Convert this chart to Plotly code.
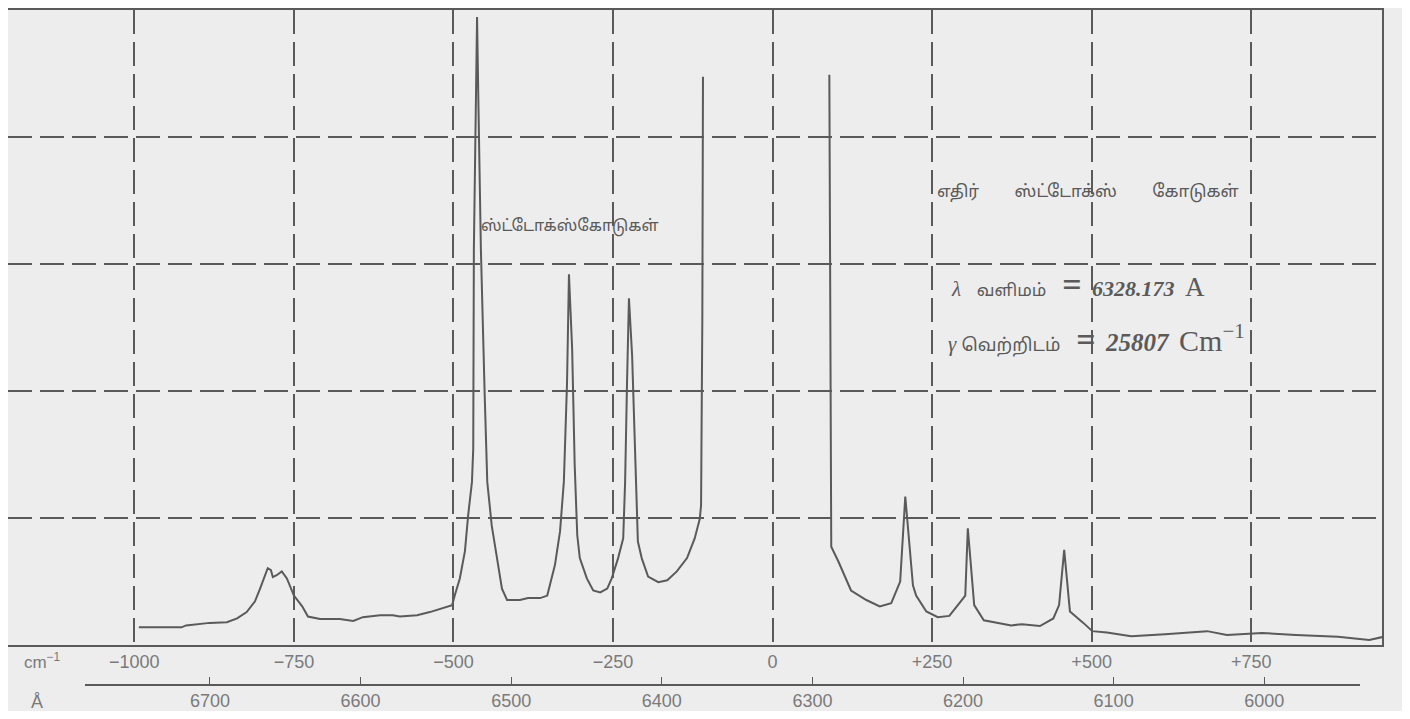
import plotly.graph_objects as go

# Raman shift (cm^-1) / relative intensity
stokes_shift = [-993, -960, -926, -919, -882, -855, -839, -824, -811, -803, -795, -791, -786,
                -783, -777, -769, -761, -750, -737, -728, -709, -678, -657, -642, -615, -595,
                -584, -557, -537, -516, -502, -498, -490, -482, -477, -471, -469, -468, -463,
                -461, -457, -451, -447, -440, -432, -424, -416, -396, -383, -364, -353, -341,
                -333, -327, -322, -319, -314, -310, -306, -302, -291, -281, -270, -259, -252,
                -242, -234, -231, -228, -225, -220, -216, -211, -205, -195, -179, -165, -150,
                -134, -122, -114, -112, -110, -109]
stokes_int = [2.8, 2.8, 2.8, 3.1, 3.5, 3.6, 4.2, 5.2, 6.9, 8.9, 11.0, 12.1, 11.8,
              10.7, 11.0, 11.6, 10.5, 7.8, 6.1, 4.5, 4.1, 4.1, 3.8, 4.4, 4.7, 4.7,
              4.5, 4.7, 5.2, 5.8, 6.3, 7.8, 10.5, 14.8, 20.4, 25.7, 30.9, 62.3, 98.9,
              85.9, 62.3, 39.2, 25.7, 18.8, 14.1, 8.9, 7.1, 7.1, 7.4, 7.4, 7.8, 12.6,
              17.9, 25.7, 41.4, 58.4, 46.6, 28.3, 17.3, 13.7, 10.5, 8.6, 8.3, 8.9, 10.5,
              13.7, 16.8, 25.7, 41.4, 54.6, 45.5, 30.9, 16.3, 13.7, 10.8, 9.9, 10.2, 11.6,
              13.7, 16.8, 19.9, 22.0, 51.8, 89.5]

anti_shift = [89, 92, 103, 123, 147, 168, 186, 200, 208, 220, 225, 241, 259, 277, 295, 302,
              306, 316, 331, 355, 374, 391, 419, 440, 449, 457, 466, 487, 501, 524, 562,
              615, 681, 712, 767, 820, 886, 935, 957]
anti_int = [89.8, 15.5, 13.2, 8.6, 7.1, 6.1, 6.6, 10.0, 23.4, 9.4, 7.8, 5.3, 4.4, 4.6, 6.9,
            7.8, 18.4, 6.3, 3.9, 3.5, 3.1, 3.3, 3.0, 4.2, 6.3, 15.0, 5.3, 3.5, 2.2, 2.0,
            1.4, 1.7, 2.2, 1.6, 1.9, 1.6, 1.3, 0.8, 1.3]

shift_ticks = [-1000, -750, -500, -250, 0, 250, 500, 750]
shift_labels = ["\u22121000", "\u2212750", "\u2212500", "\u2212250", "0", "+250", "+500", "+750"]
angstrom_ticks = [6700, 6600, 6500, 6400, 6300, 6200, 6100, 6000]
intensity_grid = [0, 20, 40, 60, 80, 100]

INK = "#5a5a5a"
SOFT = "#7a7a7a"
PAPER = "#ededed"
TAMIL = "Noto Sans Tamil, Noto Serif Tamil, Lohit Tamil, Noto Sans, sans-serif"
SERIF = "Liberation Serif, DejaVu Serif, serif"
LABEL = "Liberation Sans Narrow, Liberation Sans, Arial, sans-serif"
NB = "\u00a0"

fig = go.Figure()
fig.add_trace(go.Scatter(x=stokes_shift, y=stokes_int, mode="lines",
                         line=dict(color=INK, width=2), hoverinfo="skip"))
fig.add_trace(go.Scatter(x=anti_shift, y=anti_int, mode="lines",
                         line=dict(color=INK, width=2), hoverinfo="skip"))
# wavelength scale (Å) underneath
fig.add_trace(go.Scatter(x=angstrom_ticks, y=[0] * len(angstrom_ticks), mode="markers",
                         marker=dict(opacity=0), xaxis="x2", yaxis="y2", hoverinfo="skip"))

grid = dict(showgrid=True, gridcolor=INK, gridwidth=1.5, griddash="24px,8px")

fig.update_layout(
    width=1394, height=703,
    margin=dict(l=0, r=20, t=2, b=25),
    paper_bgcolor=PAPER, plot_bgcolor=PAPER,
    showlegend=False,
    xaxis=dict(range=[-1198, 955], tickvals=shift_ticks, ticktext=shift_labels,
               showline=True, mirror=True, linecolor=INK, linewidth=1.5,
               ticks="", zeroline=False, anchor="y",
               tickfont=dict(family=LABEL, size=18, color=SOFT), **grid),
    yaxis=dict(range=[0, 100], tickvals=intensity_grid, showticklabels=False,
               domain=[0.0577, 1], showline=True, mirror=True, linecolor=INK,
               linewidth=1.5, zeroline=False, **grid),
    xaxis2=dict(range=[6783, 5936.4], domain=[0.056, 0.984], anchor="y2",
                tickvals=angstrom_ticks, ticks="inside", ticklen=7, tickcolor=INK,
                showline=True, linecolor=INK, linewidth=1.5, showgrid=False,
                zeroline=False, tickfont=dict(family=LABEL, size=18, color=SOFT)),
    yaxis2=dict(domain=[0, 0.005], range=[0, 1], visible=False),
)

fig.add_annotation(x=-317, y=65.8, text="ஸ்ட்டோக்ஸ்கோடுகள்", showarrow=False,
                   font=dict(family=TAMIL, size=16, color=INK))
fig.add_annotation(x=494, y=71.3,
                   text="எதிர்" + NB * 8 + "ஸ்ட்டோக்ஸ்" + NB * 8 + "கோடுகள்",
                   showarrow=False, font=dict(family=TAMIL, size=17, color=INK))

tamil_span = "<span style='font-family:Noto Sans Tamil, Noto Sans;font-size:%dpx'>%s</span>"
eq = "<span style='font-size:34px'><b>=</b></span>"
fig.add_annotation(x=276, y=56.8, xanchor="left",
                   text="<i>λ</i>" + NB * 3 + tamil_span % (17, "வளிமம்") + NB * 3 + eq
                        + NB * 2 + "<span style='font-size:22px'><b><i>6328.173</i></b></span>"
                        + NB * 2 + "<span style='font-size:27px'>A</span>",
                   showarrow=False, font=dict(family=SERIF, size=21, color=INK))
fig.add_annotation(x=272, y=48.2, xanchor="left",
                   text="<i>γ</i>" + NB + tamil_span % (18, "வெற்றிடம்") + NB * 3 + eq
                        + NB * 2 + "<span style='font-size:25px'><b><i>25807</i></b></span>"
                        + NB * 2 + "<span style='font-size:30px'>Cm<sup>\u22121</sup></span>",
                   showarrow=False, font=dict(family=SERIF, size=21, color=INK))

fig.add_annotation(xref="paper", yref="paper", x=0.0102, y=0.015, xanchor="left",
                   text="cm<sup>\u22121</sup>", showarrow=False,
                   font=dict(family=LABEL, size=17, color=SOFT))
fig.add_annotation(xref="paper", yref="paper", x=0.0211, y=-0.044, xanchor="center",
                   text="Å", showarrow=False, font=dict(family=LABEL, size=18, color=SOFT))

fig.write_html("out.html")
